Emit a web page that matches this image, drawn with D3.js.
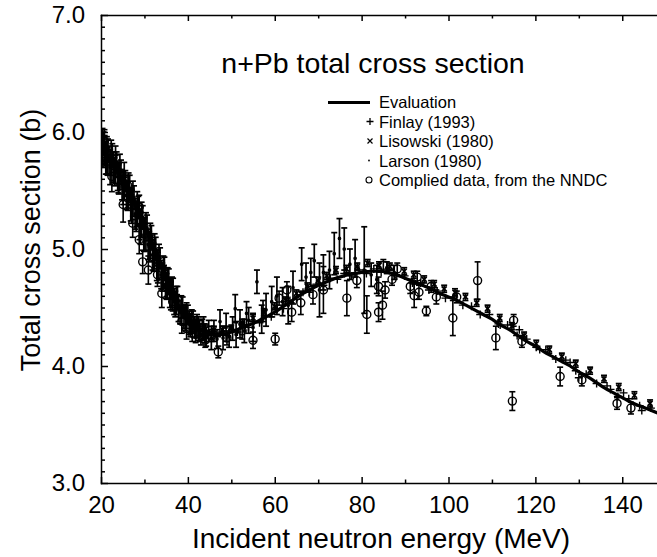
<!DOCTYPE html>
<html lang="en">
<head>
<meta charset="utf-8">
<title>n+Pb total cross section</title>
<style>
  body { margin:0; background:white; }
  svg { font-family: 'Liberation Sans', Arial, Helvetica, sans-serif; }
  .axis path, .axis line { stroke:black; stroke-width:1.5; }
  .axis text { font-size:24px; fill:black; }
</style>
</head>
<body>
<div id="canvas"></div>
<script src="https://cdnjs.cloudflare.com/ajax/libs/d3/7.8.5/d3.min.js"></script>
<script>
// Evaluation curve (MeV, barns)
var evalE = [20,22,24,26,28,30,32,34,36,38,40,42,44,46,48,50,52,54,56,58,60,62,64,66,68,70,72,74,76,78,80,82,84,86,88,90,92,94,96,98,100,102,104,106,108,110,112,114,116,118,120,122,124,126,128,130,132,134,136,138,140,142,144,146,148,150];
var evalS = [5.85,5.76,5.65,5.52,5.36,5.19,5.02,4.84,4.66,4.51,4.40,4.33,4.29,4.27,4.27,4.29,4.32,4.35,4.38,4.42,4.46,4.51,4.56,4.61,4.65,4.69,4.72,4.75,4.77,4.79,4.80,4.81,4.81,4.80,4.78,4.75,4.72,4.69,4.66,4.62,4.59,4.56,4.52,4.48,4.44,4.40,4.35,4.31,4.26,4.21,4.17,4.12,4.08,4.04,4.00,3.95,3.91,3.86,3.81,3.77,3.73,3.69,3.66,3.63,3.60,3.57];

// Finlay (1993): [E, sigma]
var finlay = [[20.3,5.88],[20.9,5.80],[21.5,5.83],[22.1,5.74],[22.7,5.75],[23.3,5.68],[23.9,5.67],[24.6,5.60],[25.2,5.58],[25.9,5.50],[26.6,5.49],[27.3,5.40],[28.0,5.38],[28.7,5.29],[29.4,5.26],[30.1,5.17],[30.9,5.13],[31.7,5.02],[32.5,4.99],[33.3,4.88],[34.1,4.85],[34.9,4.74],[35.8,4.70],[36.7,4.60],[37.6,4.56],[38.5,4.47],[39.4,4.45],[40.4,4.37],[41.4,4.36],[42.4,4.30],[43.4,4.32],[44.5,4.26],[45.6,4.29],[46.7,4.25],[47.8,4.29],[49.0,4.26],[50.2,4.31],[51.4,4.29],[52.6,4.35],[53.9,4.33],[55.2,4.38],[56.5,4.37],[57.8,4.43],[59.2,4.42],[60.6,4.49],[62.0,4.49],[63.5,4.56],[65.0,4.57],[66.5,4.63],[68.0,4.63],[69.6,4.70],[71.2,4.69],[72.8,4.75],[74.4,4.74],[76.0,4.79],[77.7,4.77],[79.4,4.82],[81.1,4.79],[82.8,4.83],[84.5,4.80],[86.3,4.82],[88.1,4.77],[89.9,4.77],[91.7,4.71],[93.6,4.71],[95.5,4.65],[97.4,4.64],[99.3,4.58],[101.3,4.59],[103.3,4.52],[105.3,4.51],[107.3,4.44],[109.4,4.44],[111.5,4.36],[111.9,4.35],[113.6,4.35],[115.8,4.26],[116.3,4.31],[118.0,4.23],[120.2,4.16],[121.0,4.14],[122.4,4.14],[124.7,4.06],[127.0,4.05],[128.0,4.03],[129.3,3.96],[130.0,3.90],[131.7,3.93],[134.1,3.85],[136.5,3.83],[137.3,3.80],[139.0,3.74],[140.3,3.77],[141.5,3.72],[144.0,3.66],[144.5,3.62],[146.6,3.64],[149.2,3.58]];

// Lisowski (1980): [E, sigma, error]
var lisowski = [[21,5.86,.03],[22.5,5.78,.03],[24,5.70,.03],[25.5,5.60,.03],[27,5.48,.03],[28.5,5.36,.03],[30,5.24,.03],[31.5,5.10,.03],[33,4.96,.03],[34.5,4.83,.03],[36,4.70,.03],[37.5,4.58,.03],[39,4.49,.03],[40.5,4.41,.03],[42,4.37,.03],[44,4.32,.03],[46,4.31,.03],[48,4.31,.03],[50,4.32,.03],[52.5,4.37,.03],[55,4.41,.03],[57.5,4.46,.03],[60,4.51,.03],[62.5,4.56,.03],[65,4.62,.03],[67.5,4.68,.03],[70,4.73,.03],[72,4.77,.03],[74.1,4.82,.03],[76.5,4.83,.03],[79,4.85,.03],[81.4,4.88,.03],[84,4.86,.03],[86.5,4.85,.03],[89.8,4.81,.03],[92,4.78,.03],[94.4,4.74,.03],[96.7,4.70,.03],[99,4.66,.03],[101.5,4.63,.03],[103.9,4.59,.03],[106.5,4.54,.03],[109,4.49,.03],[111.8,4.41,.03],[114.6,4.34,.03],[117.4,4.26,.03],[120.2,4.19,.03],[123.2,4.14,.03],[126.1,4.08,.03],[129.3,4.02,.03],[132.6,3.96,.03],[135.8,3.89,.03],[139.2,3.82,.03],[142.8,3.75,.03],[146.4,3.68,.03]];

// Larson (1980): [E, sigma, error]
var larson = [[20.1,5.82,.12],[20.2,5.90,.12],[20.35,5.88,.15],[20.6,5.90,.10],[20.85,5.84,.13],[21.1,5.78,.14],[21.35,5.80,.16],[21.6,5.85,.09],[21.85,5.76,.12],[22.1,5.70,.15],[22.35,5.78,.15],[22.6,5.80,.10],[22.85,5.70,.13],[23.1,5.66,.12],[23.35,5.72,.16],[23.6,5.74,.09],[23.85,5.62,.12],[24.1,5.60,.13],[24.35,5.66,.15],[24.6,5.66,.10],[24.85,5.55,.13],[25.1,5.52,.14],[25.35,5.58,.16],[25.6,5.58,.09],[25.85,5.46,.12],[26.1,5.45,.12],[26.35,5.50,.15],[26.6,5.52,.11],[26.85,5.38,.14],[27.1,5.36,.14],[27.35,5.43,.15],[27.6,5.44,.10],[27.85,5.30,.13],[28.1,5.28,.13],[28.35,5.34,.15],[28.6,5.36,.09],[28.85,5.21,.13],[29.1,5.18,.14],[29.35,5.25,.15],[29.6,5.27,.10],[29.85,5.12,.14],[30.1,5.10,.12],[30.35,5.15,.16],[30.6,5.18,.11],[30.85,5.04,.13],[31.1,5.02,.13],[31.35,5.07,.15],[31.6,5.10,.10],[31.85,4.95,.13],[32.1,4.93,.12],[32.35,4.98,.15],[32.6,5.00,.10],[32.85,4.86,.13],[33.1,4.84,.13],[33.35,4.89,.15],[33.6,4.92,.09],[33.85,4.78,.12],[34.1,4.76,.12],[34.35,4.80,.14],[34.6,4.83,.10],[34.85,4.70,.12],[35.1,4.68,.11],[35.35,4.71,.13],[35.6,4.74,.09],[35.85,4.62,.12],[36.1,4.60,.12],[36.35,4.63,.13],[36.6,4.66,.09],[36.85,4.55,.11],[37.1,4.53,.11],[37.35,4.56,.12],[37.6,4.58,.10],[37.85,4.49,.11],[38.2,4.46,.10],[38.5,4.48,.12],[38.8,4.50,.09],[39.1,4.42,.10],[39.4,4.41,.11],[39.7,4.43,.11],[40.0,4.44,.08],[40.3,4.37,.10],[40.6,4.35,.10],[40.9,4.38,.10],[41.2,4.38,.09],[41.5,4.33,.09],[41.8,4.30,.10],[42.1,4.34,.10],[42.4,4.34,.08],[42.7,4.30,.09],[43.0,4.27,.09],[43.3,4.31,.09],[43.6,4.32,.10],[43.9,4.28,.08],[44.2,4.25,.08],[44.8,4.30,.09],[45.4,4.24,.10],[46.0,4.30,.09],[46.7,4.23,.08],[47.4,4.38,.10],[48.1,4.24,.10],[48.8,4.33,.12],[49.5,4.25,.09],[50.3,4.32,.10],[50.9,4.49,.12],[51.1,4.27,.11],[52.0,4.36,.12],[53.0,4.30,.10],[53.5,4.45,.10],[54.0,4.39,.11],[55.0,4.33,.12],[55.9,4.72,.10],[57.0,4.40,.12],[57.3,4.47,.09],[58.0,4.48,.14],[59.3,4.55,.13],[60.5,4.60,.16],[61.8,4.55,.12],[63.1,4.52,.16],[64.2,4.67,.14],[66.2,4.87,.14],[67.2,4.76,.12],[68.3,4.80,.12],[69.1,4.90,.14],[70.3,4.65,.23],[71.2,4.80,.15],[72.6,4.82,.16],[73.7,4.96,.18],[74.9,5.09,.17],[76.0,5.00,.18],[77.3,4.87,.13],[78.5,4.92,.16],[80.6,4.82,.37],[82.2,4.78,.10],[83.5,4.74,.12],[85.8,4.84,.05],[87.5,4.80,.06]];

// Compiled data, NNDC: [E, sigma, error]
var compiled = [[20.2,5.80,.08],[20.8,5.92,.10],[21.5,5.75,.12],[22.5,5.62,.13],[23.4,5.72,.08],[24.0,5.58,.10],[25.1,5.38,.15],[26.2,5.54,.09],[27.3,5.22,.12],[28.8,5.36,.10],[28.8,5.08,.12],[29.6,4.89,.10],[30.9,4.82,.12],[32.0,4.98,.08],[33.0,4.78,.10],[34.0,4.62,.12],[35.5,4.68,.07],[36.5,4.55,.08],[38.6,4.38,.10],[39.7,4.32,.09],[41.0,4.28,.07],[42.5,4.28,.06],[44.0,4.22,.06],[45.5,4.26,.05],[47.0,4.12,.05],[49.0,4.24,.06],[52.5,4.30,.07],[55.0,4.22,.07],[60.1,4.23,.05],[61.0,4.58,.06],[62.8,4.65,.07],[63.9,4.46,.08],[66.0,4.54,.10],[68.8,4.61,.08],[71.2,4.65,.20],[76.6,4.58,.15],[78.9,4.73,.06],[81.2,4.44,.16],[83.9,4.68,.08],[83.9,4.46,.08],[85.0,4.86,.05],[85.4,4.65,.07],[84.8,4.52,.12],[87.0,4.74,.05],[88.2,4.83,.05],[91.2,4.68,.06],[92.1,4.60,.10],[92.8,4.76,.05],[93.2,4.63,.06],[94.9,4.47,.04],[96.0,4.68,.05],[97.2,4.59,.06],[101.0,4.41,.15],[101.9,4.59,.05],[106.7,4.73,.16],[110.9,4.24,.10],[115.0,4.39,.05],[114.7,3.70,.08],[116.9,4.21,.05],[125.7,3.91,.08],[130.7,3.88,.05],[138.8,3.68,.05],[142.0,3.64,.05]];

var legendItems = ["Evaluation", "Finlay (1993)", "Lisowski (1980)", "Larson (1980)", "Complied data, from the NNDC"];

var W = 657, H = 557;
var mLeft = 101, mRight = 657, mTop = 15, mBottom = 483;

var x = d3.scaleLinear().domain([20, 148]).range([mLeft, mRight]);
var y = d3.scaleLinear().domain([3, 7]).range([mBottom, mTop]);

var svg = d3.select("#canvas").append("svg")
    .attr("width", W)
    .attr("height", H);

svg.append("clipPath").attr("id", "plotclip")
  .append("rect")
    .attr("x", mLeft).attr("y", mTop)
    .attr("width", mRight - mLeft).attr("height", mBottom - mTop);

var plot = svg.append("g").attr("clip-path", "url(#plotclip)");

// error bars with small caps
function errorBars(g, data, cap) {
  data.forEach(function(d) {
    var cx = x(d[0]), y1 = y(d[1] - d[2]), y2 = y(d[1] + d[2]);
    g.append("line").attr("x1", cx).attr("x2", cx).attr("y1", y1).attr("y2", y2);
    g.append("line").attr("x1", cx - cap).attr("x2", cx + cap).attr("y1", y1).attr("y2", y1);
    g.append("line").attr("x1", cx - cap).attr("x2", cx + cap).attr("y1", y2).attr("y2", y2);
  });
}

var gLarson = plot.append("g").attr("stroke", "black").attr("stroke-width", 1.7);
errorBars(gLarson, larson, 3);
gLarson.selectAll("circle").data(larson).enter().append("circle")
    .attr("cx", function(d) { return x(d[0]); })
    .attr("cy", function(d) { return y(d[1]); })
    .attr("r", 1).attr("fill", "black");

var gComp = plot.append("g").attr("stroke", "black").attr("stroke-width", 1.6);
errorBars(gComp, compiled, 3);
gComp.selectAll("circle").data(compiled).enter().append("circle")
    .attr("cx", function(d) { return x(d[0]); })
    .attr("cy", function(d) { return y(d[1]); })
    .attr("r", 4).attr("fill", "none").attr("stroke-width", 1.4);

var gLis = plot.append("g").attr("stroke", "black").attr("stroke-width", 1.7);
errorBars(gLis, lisowski, 3);
lisowski.forEach(function(d) {
  var cx = x(d[0]), cy = y(d[1]), s = 2.5;
  gLis.append("path").attr("d", "M" + (cx - s) + "," + (cy - s) + "L" + (cx + s) + "," + (cy + s) +
      "M" + (cx - s) + "," + (cy + s) + "L" + (cx + s) + "," + (cy - s));
});

var gFin = plot.append("g").attr("stroke", "black").attr("stroke-width", 1.4);
finlay.forEach(function(d) {
  var cx = x(d[0]), cy = y(d[1]), s = 4;
  gFin.append("path").attr("d", "M" + (cx - s) + "," + cy + "H" + (cx + s) + "M" + cx + "," + (cy - s) + "V" + (cy + s));
});

var line = d3.line()
    .x(function(d, i) { return x(evalE[i]); })
    .y(function(d) { return y(d); })
    .curve(d3.curveMonotoneX);

plot.append("path")
    .datum(evalS)
    .attr("d", line)
    .attr("fill", "none")
    .attr("stroke", "black")
    .attr("stroke-width", 3.2);

// Axes: major and minor ticks, pointing inward
var xMajor = d3.range(20, 149, 20), xMinor = d3.range(30, 149, 20);
var yMajor = d3.range(3, 7.01, 1), yMinor = d3.range(31, 70, 1).filter(function(v) { return v % 10 != 0; }).map(function(v) { return v / 10; });

svg.append("g").attr("class", "axis")
    .attr("transform", "translate(0," + mBottom + ")")
    .call(d3.axisBottom(x).tickValues(xMajor).tickSizeInner(-6).tickSizeOuter(0).tickPadding(13).tickFormat(d3.format("d")));
svg.append("g").attr("class", "axis")
    .attr("transform", "translate(0," + mBottom + ")")
    .call(d3.axisBottom(x).tickValues(xMinor).tickSize(-3.5).tickFormat(""))
    .select(".domain").remove();

svg.append("g").attr("class", "axis")
    .attr("transform", "translate(0," + mTop + ")")
    .call(d3.axisTop(x).tickValues(xMajor).tickSizeInner(-6).tickSizeOuter(0).tickFormat(""));
svg.append("g").attr("class", "axis")
    .attr("transform", "translate(0," + mTop + ")")
    .call(d3.axisTop(x).tickValues(xMinor).tickSize(-3.5).tickFormat(""))
    .select(".domain").remove();

svg.append("g").attr("class", "axis")
    .attr("transform", "translate(" + mLeft + ",0)")
    .call(d3.axisLeft(y).tickValues(yMajor).tickSizeInner(-7).tickSizeOuter(0).tickPadding(16).tickFormat(d3.format(".1f")));
svg.append("g").attr("class", "axis")
    .attr("transform", "translate(" + mLeft + ",0)")
    .call(d3.axisLeft(y).tickValues(yMinor).tickSize(-4).tickFormat(""))
    .select(".domain").remove();

svg.selectAll(".axis .domain").attr("stroke-linecap", "square");

// Titles
svg.append("text")
    .attr("x", 373).attr("y", 73)
    .attr("text-anchor", "middle")
    .style("font-size", "28.5px")
    .text("n+Pb total cross section");

svg.append("text")
    .attr("x", 381).attr("y", 548)
    .attr("text-anchor", "middle")
    .style("font-size", "28px")
    .text("Incident neutron energy (MeV)");

svg.append("text")
    .attr("transform", "translate(40," + 240 + ") rotate(-90)")
    .attr("text-anchor", "middle")
    .style("font-size", "27px")
    .text("Total cross section (b)");

// Legend
var lg = svg.append("g");
var lx = 370, tx = 379, ly0 = 108, dy = 19.5;
lg.append("line").attr("x1", 328).attr("x2", 370).attr("y1", ly0 - 5.5).attr("y2", ly0 - 5.5)
    .attr("stroke", "black").attr("stroke-width", 3);
var cy1 = ly0 + dy - 6;
lg.append("path").attr("d", "M" + (lx - 3.5) + "," + cy1 + "H" + (lx + 3.5) + "M" + lx + "," + (cy1 - 3.5) + "V" + (cy1 + 3.5))
    .attr("stroke", "black").attr("stroke-width", 1.3);
var cy2 = ly0 + 2 * dy - 6;
lg.append("path").attr("d", "M" + (lx - 2.5) + "," + (cy2 - 2.5) + "L" + (lx + 2.5) + "," + (cy2 + 2.5) + "M" + (lx - 2.5) + "," + (cy2 + 2.5) + "L" + (lx + 2.5) + "," + (cy2 - 2.5))
    .attr("stroke", "black").attr("stroke-width", 1.2);
lg.append("circle").attr("cx", lx - 1).attr("cy", ly0 + 3 * dy - 6).attr("r", 0.9).attr("fill", "black");
lg.append("circle").attr("cx", lx - 1).attr("cy", ly0 + 4 * dy - 6).attr("r", 3).attr("fill", "none")
    .attr("stroke", "black").attr("stroke-width", 1.1);

lg.selectAll("text.leg").data(legendItems).enter().append("text")
    .attr("class", "leg")
    .attr("x", tx)
    .attr("y", function(d, i) { return ly0 + i * dy; })
    .style("font-size", "16.5px")
    .text(function(d) { return d; });
</script>
</body>
</html>
